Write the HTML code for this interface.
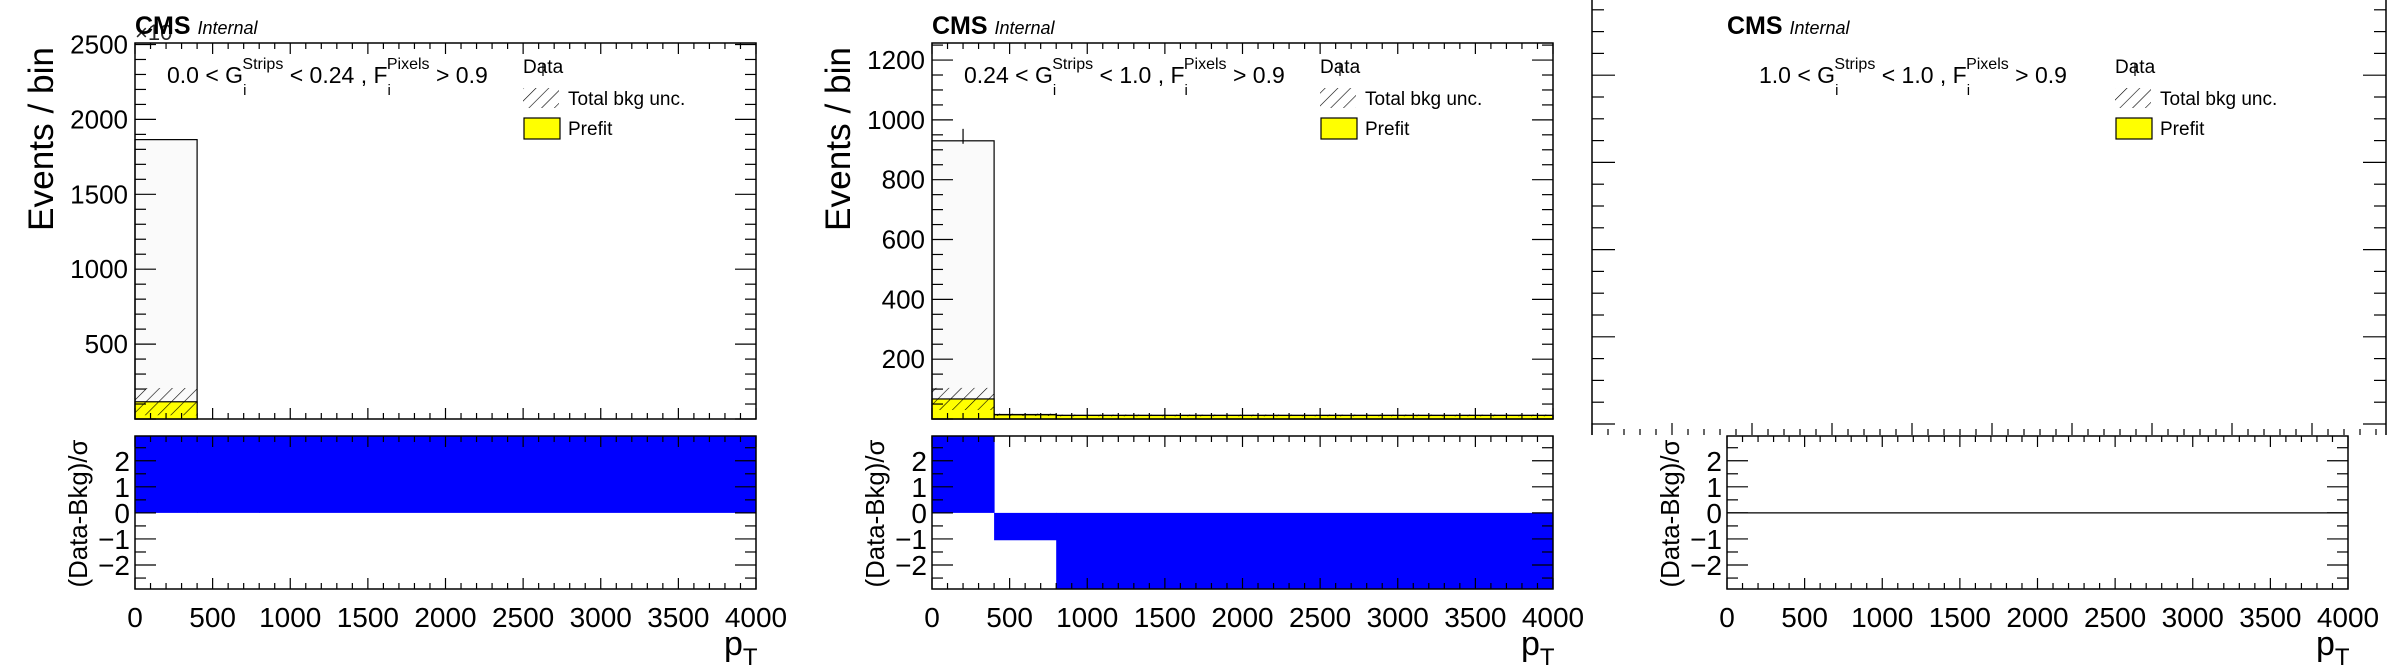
<!DOCTYPE html>
<html><head><meta charset="utf-8"><style>
html,body{margin:0;padding:0;background:#fff}
svg{display:block}
text{font-family:"Liberation Sans",sans-serif;fill:#000}
</style></head><body>
<svg id="c" width="2388" height="672" viewBox="0 0 2388 672" xmlns="http://www.w3.org/2000/svg">
<defs>
<pattern id="hatch" patternUnits="userSpaceOnUse" width="9" height="9" patternTransform="rotate(45)">
<line x1="0" y1="0" x2="0" y2="9" stroke="#000" stroke-width="1.2"/>
</pattern>
</defs>
</svg>
<script>
// ---- data ----
const binEdges = [0, 400, 800, 4000];
const p1Total = [1865, 0, 0];
const p1Prefit = [115, 0, 0];
const p1UncLow = [25, 0, 0];
const p1UncHigh = [207, 0, 0];
const p1Ratio = [3.5, 3.5, 3.5];
const p2Total = [930, 15, 12];
const p2Prefit = [67, 14, 12];
const p2UncLow = [30, 10, 9];
const p2UncHigh = [104, 18, 15];
const p2Ratio = [3.5, -1.05, -3.5];
const p2Data = [945];
const p2DataErr = [25];
const p3Ratio = [0, 0, 0];
const p1YTicks = [500, 1000, 1500, 2000, 2500];
const p2YTicks = [200, 400, 600, 800, 1000, 1200];
const ratioTicks = [-2, -1, 0, 1, 2];
const xTicks = [0, 500, 1000, 1500, 2000, 2500, 3000, 3500, 4000];
const regionLabels = [["0.0", "0.24"], ["0.24", "1.0"], ["1.0", "1.0"]];

const NS = "http://www.w3.org/2000/svg";
const svg = document.getElementById('c');
function mk(tag, attrs, parent) {
  const e = document.createElementNS(NS, tag);
  for (const k in attrs) e.setAttribute(k, attrs[k]);
  (parent || svg).appendChild(e);
  return e;
}
const TOP = 43, BOT = 419, RTOP = 436, RBOT = 589, W = 621;
const RMIN = -2.92, RMAX = 2.95;

function panel(idx, ox, opt) {
  const g = mk('g', {});
  
  
  const x = v => ox + v / 4000 * W;
  const ry = v => RTOP + (RMAX - Math.max(RMIN, Math.min(RMAX, v))) / (RMAX - RMIN) * (RBOT - RTOP);

  if (opt.main) {
    const ymax = opt.ymax;
    const y = v => BOT - v / ymax * (BOT - TOP);
    for (let i = 0; i < binEdges.length - 1; i++) {
      const x0 = x(binEdges[i]), x1 = x(binEdges[i + 1]);
      if (opt.total[i] > 0) {
        const r = mk('rect', {x: x0, y: y(opt.total[i]), width: x1 - x0, height: BOT - y(opt.total[i]), fill: '#fafafa', stroke: '#000', 'stroke-width': 1.2}, g);
        
        
      }
      if (opt.prefit[i] > 0) {
        const r = mk('rect', {x: x0, y: y(opt.prefit[i]), width: x1 - x0, height: BOT - y(opt.prefit[i]), fill: '#ffff00', stroke: '#000', 'stroke-width': 1.2}, g);
        
        
      }
      if (opt.uncHigh[i] > 0) {
        const r = mk('rect', {x: x0, y: y(opt.uncHigh[i]), width: x1 - x0, height: y(opt.uncLow[i]) - y(opt.uncHigh[i]), fill: 'url(#hatch)'}, g);
        
        
      }
    }
    if (opt.data) {
      for (let i = 0; i < opt.data.length; i++) {
        const cx = x((binEdges[i] + binEdges[i + 1]) / 2);
        const l = mk('line', {x1: cx, x2: cx, y1: y(opt.data[i] + opt.dataErr[i]), y2: y(opt.data[i] - opt.dataErr[i]), stroke: '#000', 'stroke-width': 1.2}, g);
        
        
      }
    }
    const f = mk('rect', {x: ox, y: TOP, width: W, height: BOT - TOP, fill: 'none', stroke: '#000', 'stroke-width': 1.5}, g);
    
    
    const step = opt.yTicks[1] - opt.yTicks[0], sub = opt.ysub;
    for (let v = 0; v <= ymax; v += step / sub) {
      const maj = Math.abs(v / step - Math.round(v / step)) < 1e-6;
      const L = maj ? 21 : 11, yy = y(v);
      mk('line', {x1: ox, x2: ox + L, y1: yy, y2: yy, stroke: '#000', 'stroke-width': 1.2}, g);
      mk('line', {x1: ox + W - L, x2: ox + W, y1: yy, y2: yy, stroke: '#000', 'stroke-width': 1.2}, g);
    }
    opt.yTicks.forEach(v => {
      const t = mk('text', {x: ox - 7, y: y(v) + 9, 'text-anchor': 'end', 'font-size': 26}, g);
      t.textContent = v;
      
      
    });
    for (let v = 0; v <= 4000; v += 100) {
      const L = v % 500 === 0 ? 11 : 6, xx = x(v);
      mk('line', {x1: xx, x2: xx, y1: BOT, y2: BOT - L, stroke: '#000', 'stroke-width': 1.2}, g);
      mk('line', {x1: xx, x2: xx, y1: TOP, y2: TOP + L, stroke: '#000', 'stroke-width': 1.2}, g);
    }
    const yt = mk('text', {transform: `translate(${ox - 82},${TOP + 96}) rotate(-90)`, 'text-anchor': 'middle', 'font-size': 35, textLength: 184, lengthAdjust: 'spacingAndGlyphs'}, g);
    yt.textContent = 'Events / bin';
    
    
  } else {
    const L0 = 1592, R0 = 2386, B0 = 435;
    mk('line', {x1: L0, x2: L0, y1: 0, y2: B0, stroke: '#000', 'stroke-width': 1.5}, g);
    mk('line', {x1: R0, x2: R0, y1: 0, y2: B0, stroke: '#000', 'stroke-width': 1.5}, g);
    for (let k = 0; k * 21.8 <= B0; k++) {
      const yy = B0 - k * 21.8 - 11, L = (k % 4 === 0) ? 23 : 12;
      if (yy < 0) continue;
      mk('line', {x1: L0, x2: L0 + L, y1: yy, y2: yy, stroke: '#000', 'stroke-width': 1.2}, g);
      mk('line', {x1: R0 - L, x2: R0, y1: yy, y2: yy, stroke: '#000', 'stroke-width': 1.2}, g);
    }
    for (let k = 0; L0 + k * 16 <= R0; k++) {
      const xx = L0 + k * 16, L = k % 5 === 0 ? 12 : 6;
      mk('line', {x1: xx, x2: xx, y1: B0, y2: B0 - L, stroke: '#000', 'stroke-width': 1.2}, g);
    }
  }

  for (let i = 0; i < binEdges.length - 1; i++) {
    const v = opt.ratio[i];
    if (v === 0) continue;
    const x0 = x(binEdges[i]), x1 = x(binEdges[i + 1]);
    const y0 = ry(0), y1 = ry(v);
    const r = mk('rect', {x: x0, y: Math.min(y0, y1), width: x1 - x0 + 0.5, height: Math.abs(y1 - y0), fill: '#0000ff'}, g);
    
    
  }
  if (opt.zeroLine) {
    mk('line', {x1: ox, x2: ox + W, y1: ry(0), y2: ry(0), stroke: '#000', 'stroke-width': 1.3}, g);
  }
  const rf = mk('rect', {x: ox, y: RTOP, width: W, height: RBOT - RTOP, fill: 'none', stroke: '#000', 'stroke-width': 1.5}, g);
  
  
  for (let v = -2.5; v <= 2.5; v += 0.5) {
    const L = Number.isInteger(v) ? 21 : 11, yy = ry(v);
    mk('line', {x1: ox, x2: ox + L, y1: yy, y2: yy, stroke: '#000', 'stroke-width': 1.2}, g);
    mk('line', {x1: ox + W - L, x2: ox + W, y1: yy, y2: yy, stroke: '#000', 'stroke-width': 1.2}, g);
  }
  ratioTicks.forEach(v => {
    const t = mk('text', {x: ox - 5, y: ry(v) + 10, 'text-anchor': 'end', 'font-size': 28}, g);
    t.textContent = v < 0 ? '\u2212' + (-v) : v;
    
    
  });
  for (let v = 0; v <= 4000; v += 100) {
    const L = v % 500 === 0 ? 11 : 6, xx = x(v);
    mk('line', {x1: xx, x2: xx, y1: RBOT, y2: RBOT - L, stroke: '#000', 'stroke-width': 1.2}, g);
    mk('line', {x1: xx, x2: xx, y1: RTOP, y2: RTOP + L, stroke: '#000', 'stroke-width': 1.2}, g);
  }
  xTicks.forEach(v => {
    const t = mk('text', {x: x(v), y: 627, 'text-anchor': 'middle', 'font-size': 28}, g);
    t.textContent = v;
    
    
  });
  const rt = mk('text', {transform: `translate(${ox - 48},${(RTOP + RBOT) / 2 + 1}) rotate(-90)`, 'text-anchor': 'middle', 'font-size': 26, textLength: 148, lengthAdjust: 'spacingAndGlyphs'}, g);
  rt.textContent = '(Data-Bkg)/\u03c3';
  
  
  const xt = mk('text', {x: ox + W - 32, y: 655, 'font-size': 34}, g);
  xt.innerHTML = 'p<tspan dy="10" font-size="24">T</tspan>';
  
  

  const cms = mk('text', {x: ox, y: 34, 'font-size': 25, 'font-weight': 'bold'}, g);
  cms.innerHTML = 'CMS <tspan font-weight="normal" font-style="italic" font-size="18">Internal</tspan>';
  
  
  if (idx === 0) {
    const ex = mk('text', {x: ox, y: 40, 'font-size': 22, opacity: 0.85}, g);
    ex.textContent = '\u00d710';
    
    
  }
  const lab = regionLabels[idx];
  const rl = mk('text', {x: ox + 32, y: 83, 'font-size': 23}, g);
  rl.innerHTML = `${lab[0]} &lt; G<tspan dy="12" font-size="15">i</tspan><tspan dy="-26" dx="-4" font-size="16">Strips</tspan><tspan dy="14"> &lt; ${lab[1]} , F</tspan><tspan dy="12" font-size="15">i</tspan><tspan dy="-26" dx="-4" font-size="16">Pixels</tspan><tspan dy="14"> &gt; 0.9</tspan>`;
  
  
  const lx = ox + 388;
  const lg = mk('g', {}, g);
  
  
  const d = mk('text', {x: lx, y: 73, 'font-size': 19}, lg);
  d.textContent = 'Data';
  
  
  mk('line', {x1: lx + 20, x2: lx + 20, y1: 63, y2: 76, stroke: '#000', 'stroke-width': 1.2}, lg);
  mk('rect', {x: lx, y: 88, width: 36, height: 20, fill: 'url(#hatch)'}, lg);
  const tb = mk('text', {x: lx + 45, y: 105, 'font-size': 19}, lg);
  tb.textContent = 'Total bkg unc.';
  
  
  mk('rect', {x: lx + 1, y: 118, width: 36, height: 21, fill: '#ffff00', stroke: '#000', 'stroke-width': 1.2}, lg);
  const pf = mk('text', {x: lx + 45, y: 135, 'font-size': 19}, lg);
  pf.textContent = 'Prefit';
  
  
}

panel(0, 135, {main: true, ymax: 2510, yTicks: p1YTicks, ysub: 5, total: p1Total, prefit: p1Prefit, uncLow: p1UncLow, uncHigh: p1UncHigh, ratio: p1Ratio});
panel(1, 932, {main: true, ymax: 1257, yTicks: p2YTicks, ysub: 4, total: p2Total, prefit: p2Prefit, uncLow: p2UncLow, uncHigh: p2UncHigh, ratio: p2Ratio, data: p2Data, dataErr: p2DataErr});
panel(2, 1727, {main: false, ratio: p3Ratio, zeroLine: true});
</script>
</body></html>
